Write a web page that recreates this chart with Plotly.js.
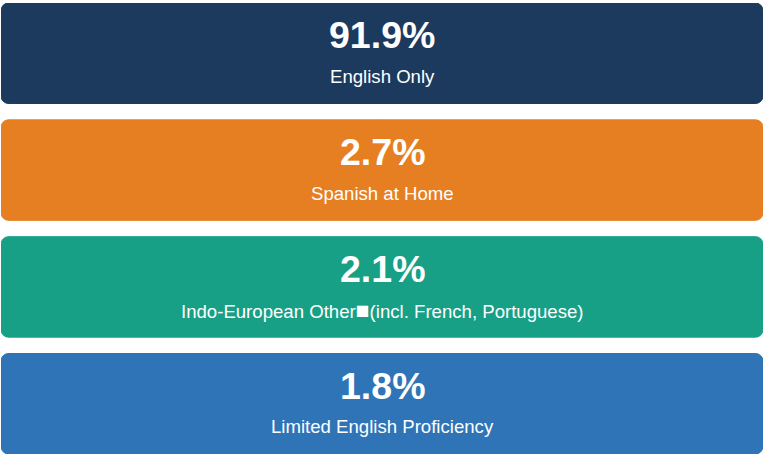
<!DOCTYPE html>
<html><head><meta charset="utf-8">
<script src="https://cdn.plot.ly/plotly-3.0.1.min.js"></script>
<style>html,body{margin:0;padding:0;background:#fff;}#chart{width:764px;height:455px;}</style>
</head><body><div id="chart"></div>
<script>
const categories = ["English Only", "Spanish at Home", "Indo-European Other\u25A0(incl. French, Portuguese)", "Limited English Proficiency"];
const values = [91.9, 2.7, 2.1, 1.8];
const valueLabels = ["91.9%", "2.7%", "2.1%", "1.8%"];
const colors = ["#1c3a5e", "#e67f22", "#17a086", "#2e74b6"];

const half = categories.map(() => 0.5);
const common = {
  type: "bar", orientation: "h", y: categories, width: 0.86,
  hoverinfo: "skip", showlegend: false
};
const traces = [
  Object.assign({}, common, {x: half.map(v => -v), marker: {color: colors, cornerradius: 8, line: {width: 1, color: colors}}}),
  Object.assign({}, common, {x: half, marker: {color: colors, cornerradius: 8, line: {width: 1, color: colors}}})
];

const annotations = [];
categories.forEach((c, i) => {
  annotations.push({xref: "paper", x: 0.5, y: c, yref: "y", text: "<b>" + valueLabels[i] + "</b>", showarrow: false,
    font: {family: "Liberation Sans, Arial, sans-serif", size: 37.5, color: "#ffffff"}, yshift: 18, yanchor: "middle"});
  annotations.push({xref: "paper", x: 0.5, y: c, yref: "y",
    text: c.replace("\u25A0", '<span style="font-size:23px">\u25A0</span>'), showarrow: false,
    font: {family: "Liberation Sans, Arial, sans-serif", size: 18.6, color: "#ffffff"}, yshift: -23, yanchor: "middle"});
});

const layout = {
  width: 764, height: 455,
  margin: {l: 1, r: 1, t: 3, b: 1, pad: 0},
  paper_bgcolor: "#ffffff", plot_bgcolor: "#ffffff",
  barmode: "relative", bargap: 0,
  xaxis: {range: [-0.5, 0.5], visible: false, fixedrange: true},
  yaxis: {range: [3.43, -0.43], visible: false, fixedrange: true, type: "category"},
  annotations: annotations
};
Plotly.newPlot("chart", traces, layout, {displayModeBar: false, staticPlot: true});
</script></body></html>
